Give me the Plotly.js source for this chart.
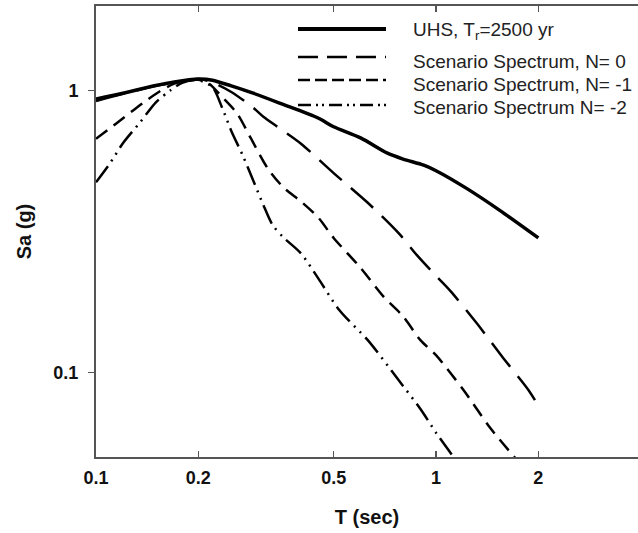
<!DOCTYPE html>
<html>
<head>
<meta charset="utf-8">
<script src="https://cdn.plot.ly/plotly-3.0.1.min.js"></script>
<style>html,body{margin:0;padding:0;background:#fff;overflow:hidden;}#chart{width:638px;height:533px;}</style>
</head>
<body>
<div id="chart"></div>
<script>
// ---- data ----
const uhsT  = [0.1, 0.12, 0.15, 0.17, 0.2, 0.22, 0.25, 0.29, 0.35, 0.45, 0.5, 0.6, 0.72, 0.8, 0.92, 1.0, 1.23, 1.54, 2.0];
const uhsSa = [0.935, 0.98, 1.045, 1.075, 1.10, 1.09, 1.04, 0.98, 0.90, 0.80, 0.745, 0.68, 0.60, 0.572, 0.544, 0.52, 0.45, 0.376, 0.30];

const n0T  = [0.1, 0.12, 0.15, 0.17, 0.2, 0.22, 0.25, 0.29, 0.31, 0.35, 0.4, 0.5, 0.63, 0.78, 0.88, 1.0, 1.1, 1.32, 1.57, 1.87, 2.0];
const n0Sa = [0.92, 0.975, 1.04, 1.07, 1.10, 1.07, 0.99, 0.87, 0.81, 0.73, 0.65, 0.51, 0.40, 0.31, 0.26, 0.22, 0.195, 0.149, 0.113, 0.0865, 0.076];

const n1T  = [0.1, 0.115, 0.13, 0.14, 0.155, 0.17, 0.19, 0.2, 0.215, 0.235, 0.26, 0.285, 0.32, 0.355, 0.4, 0.45, 0.5, 0.6, 0.7, 0.8, 0.9, 1.0, 1.2, 1.45, 1.75];
const n1Sa = [0.675, 0.767, 0.86, 0.92, 1.0, 1.06, 1.09, 1.095, 1.06, 0.95, 0.83, 0.68, 0.53, 0.455, 0.405, 0.355, 0.30, 0.235, 0.186, 0.158, 0.13, 0.115, 0.087, 0.063, 0.048];

const n2T  = [0.1, 0.11, 0.12, 0.135, 0.15, 0.165, 0.18, 0.2, 0.22, 0.235, 0.25, 0.27, 0.29, 0.31, 0.33, 0.355, 0.4, 0.45, 0.52, 0.63, 0.77, 0.9, 1.0, 1.14];
const n2Sa = [0.473, 0.553, 0.651, 0.774, 0.91, 1.0, 1.07, 1.09, 1.03, 0.87, 0.72, 0.59, 0.48, 0.395, 0.335, 0.302, 0.265, 0.216, 0.166, 0.13, 0.095, 0.074, 0.061, 0.049];

const seriesNames = ["UHS, T<sub>r</sub>=2500 yr", "Scenario Spectrum, N= 0", "Scenario Spectrum, N= -1", "Scenario Spectrum N= -2"];
const xTicks = [0.1, 0.2, 0.5, 1, 2];
const xTickText = ["0.1", "0.2", "0.5", "1", "2"];
const yTicks = [0.1, 1];
const yTickText = ["0.1", "1"];

// ---- styles ----
const FONT = "Arial, 'Liberation Sans', Helvetica, sans-serif";
const dataDash = ["solid", "30px,12px", "14px,8px", "20px,6px,2px,6px,2px,6px"];
const legDash  = ["solid", "20px,9px", "12px,5px", "13px,5px,2px,4px,2px,5px"];
const widths   = [3.5, 2.5, 2.5, 2.5];
const legWidths = [4, 2.5, 2.5, 2.5];

const xs = [uhsT, n0T, n1T, n2T];
const ys = [uhsSa, n0Sa, n1Sa, n2Sa];

const traces = xs.map((x, i) => ({
  x: x, y: ys[i], type: "scatter", mode: "lines", name: seriesNames[i],
  showlegend: false,
  line: {color: "#000", width: widths[i], dash: dataDash[i], shape: "spline", smoothing: 0.8}
}));

// custom legend (long line samples, as in the reference)
const L = 96, R = 638, T = 6, B = 457;
const px = v => (v - L) / (R - L);
const py = v => (B - v) / (B - T);
const sampleY = [29, 57, 80, 105];
const textY = [31, 61, 84, 107];
const shapes = sampleY.map((yy, i) => ({
  type: "line", xref: "paper", yref: "paper",
  x0: px(298), x1: px(386), y0: py(yy), y1: py(yy),
  line: {color: "#000", width: legWidths[i], dash: legDash[i]}
}));
const annotations = textY.map((yy, i) => ({
  xref: "paper", yref: "paper", x: px(411), y: py(yy),
  xanchor: "left", yanchor: "middle", showarrow: false,
  text: seriesNames[i], font: {family: FONT, size: 19, color: "#222"}
}));

const layout = {
  width: 638, height: 533,
  margin: {l: L, r: 638 - R, t: T, b: 533 - B, pad: 0},
  paper_bgcolor: "#fff", plot_bgcolor: "#fff",
  showlegend: false,
  font: {family: FONT, color: "#111"},
  xaxis: {
    type: "log", range: [-1, -1 + (R - L) / 340],
    tickvals: xTicks, ticktext: xTickText,
    ticks: "inside", ticklen: 6, tickwidth: 1.5, tickcolor: "#555",
    showline: true, linecolor: "#555", linewidth: 2, mirror: "ticks",
    showgrid: false, zeroline: false,
    tickfont: {family: FONT, size: 18, weight: "bold", color: "#111"},
    ticklabelstandoff: 3,
    title: {text: "T (sec)", font: {family: FONT, size: 20, weight: "bold", color: "#111"}, standoff: 23}
  },
  yaxis: {
    type: "log", range: [Math.log10(0.05), Math.log10(2)],
    tickvals: yTicks, ticktext: yTickText,
    ticks: "outside", ticklen: 6, tickwidth: 1.5, tickcolor: "#555",
    showline: true, linecolor: "#555", linewidth: 2, mirror: false,
    showgrid: false, zeroline: false,
    tickfont: {family: FONT, size: 18, weight: "bold", color: "#111"},
    ticklabelstandoff: 6,
    title: {text: "Sa (g)", font: {family: FONT, size: 20, weight: "bold", color: "#111"}, standoff: 16}
  },
  shapes: shapes,
  annotations: annotations
};

Plotly.newPlot("chart", traces, layout, {displayModeBar: false, staticPlot: true});
</script>
</body>
</html>
